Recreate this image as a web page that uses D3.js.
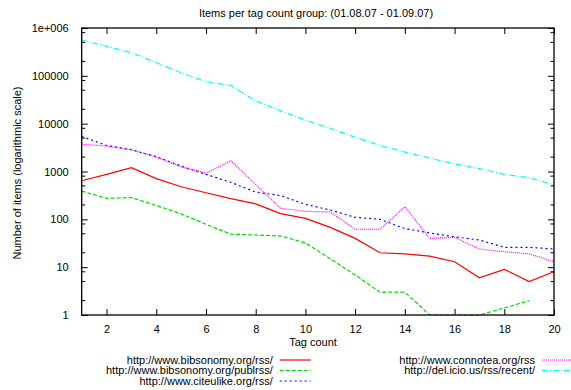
<!DOCTYPE html>
<html lang="en">
<head>
  <meta charset="UTF-8">
  <title>Items per tag count group</title>
  <script src="https://d3js.org/d3.v7.min.js"></script>
  <style>
    body { margin: 0; background: #fff; }
    svg { display: block; font-family: "Liberation Sans", Arial, sans-serif; font-size: 11px; }
    .tick text { font-size: 11px; fill: #000; }
    .tick line { stroke: #000; }
  </style>
</head>
<body>
  <svg id="chart"></svg>

  <script>
    const tagCounts = [1, 2, 3, 4, 5, 6, 7, 8, 9, 10, 11, 12, 13, 14, 15, 16, 17, 18, 19, 20];

    const bibsonomyRss = [640, 870, 1200, 710, 480, 360, 270, 210, 132, 105, 68, 40, 20, 19, 17, 13, 6, 9, 5, 8];
    const bibsonomyPubl = [390, 275, 285, 195, 130, 79, 49, 47, 45, 32, 15, 6.9, 3, 3, 1, 1, 1, 1.4, 2, null];
    const citeulike = [5400, 3500, 2850, 2050, 1300, 870, 595, 370, 315, 205, 157, 110, 100, 64, 52, 43, 37, 26, 26, 24];
    const connotea = [3700, 3400, 2850, 2000, 1250, 920, 1680, 535, 170, 147, 142, 62, 62, 183, 40, 42, 24, 21, 19, 13];
    const delicious = [560000, 415000, 305000, 188000, 116000, 75500, 63000, 30000, 18700, 11900, 8000, 5200, 3500, 2550, 1900, 1450, 1150, 870, 740, 530];

    const xTicks = [2, 4, 6, 8, 10, 12, 14, 16, 18, 20];
    const yTicks = [1, 10, 100, 1000, 10000, 100000, 1000000];
    const yTickLabels = ["1", "10", "100", "1000", "10000", "100000", "1e+006"];

    const series = [
      { name: "http://www.bibsonomy.org/rss/", values: bibsonomyRss, color: "#ff0000", dash: null },
      { name: "http://www.bibsonomy.org/publrss/", values: bibsonomyPubl, color: "#00dd00", dash: "4,2" },
      { name: "http://www.citeulike.org/rss/", values: citeulike, color: "#0000ff", dash: "2,3" },
      { name: "http://www.connotea.org/rss", values: connotea, color: "#ff00ff", dash: "1,1" },
      { name: "http://del.icio.us/rss/recent/", values: delicious, color: "#00ffff", dash: "6,2,1,2" }
    ];

    const width = 571;
    const height = 390;
    const plotLeft = 81.7, plotRight = 554, plotTop = 28, plotBottom = 315;

    const svg = d3.select("#chart")
      .attr("width", width)
      .attr("height", height);

    const x = d3.scaleLinear().domain([1, 20]).range([plotLeft, plotRight]);
    const y = d3.scaleLog().domain([1, 1e6]).range([plotBottom, plotTop]);

    // axes, ticks pointing inward on every side
    svg.append("g")
      .attr("transform", `translate(0,${plotBottom})`)
      .call(d3.axisBottom(x).tickValues(xTicks).tickSize(-6).tickPadding(10))
      .call(g => g.select(".domain").remove());

    svg.append("g")
      .attr("transform", `translate(0,${plotTop})`)
      .call(d3.axisTop(x).tickValues(xTicks).tickSize(-6).tickFormat(""))
      .call(g => g.select(".domain").remove());

    svg.append("g")
      .attr("transform", `translate(${plotLeft},0)`)
      .call(d3.axisLeft(y).tickValues(yTicks).tickSize(-6).tickPadding(13)
        .tickFormat((d, i) => yTickLabels[i]))
      .call(g => g.select(".domain").remove());

    svg.append("g")
      .attr("transform", `translate(${plotRight},0)`)
      .call(d3.axisRight(y).tickValues(yTicks).tickSize(-6).tickFormat(""))
      .call(g => g.select(".domain").remove());

    // minor log ticks
    const minor = [];
    yTicks.slice(0, -1).forEach(d => [2, 5, 8].forEach(m => minor.push(d * m)));
    svg.append("g").selectAll("line")
      .data(minor).enter().append("line")
      .attr("x1", plotLeft).attr("x2", plotLeft + 3.5)
      .attr("y1", d => y(d)).attr("y2", d => y(d))
      .attr("stroke", "#000");
    svg.append("g").selectAll("line")
      .data(minor).enter().append("line")
      .attr("x1", plotRight).attr("x2", plotRight - 3.5)
      .attr("y1", d => y(d)).attr("y2", d => y(d))
      .attr("stroke", "#000");

    // lines
    const line = d3.line()
      .defined(d => d[1] != null)
      .x(d => x(d[0]))
      .y(d => y(d[1]));

    svg.append("g").selectAll("path")
      .data(series)
      .enter()
      .append("path")
      .attr("d", s => line(tagCounts.map((t, i) => [t, s.values[i]])))
      .attr("fill", "none")
      .attr("stroke", s => s.color)
      .attr("stroke-width", 1.2)
      .attr("stroke-dasharray", s => s.dash);

    // frame
    svg.append("rect")
      .attr("x", plotLeft).attr("y", plotTop)
      .attr("width", plotRight - plotLeft).attr("height", plotBottom - plotTop)
      .attr("fill", "none").attr("stroke", "#000").attr("stroke-width", 1.3);

    // title and axis labels
    svg.append("text")
      .attr("x", 316).attr("y", 17)
      .attr("text-anchor", "middle")
      .text("Items per tag count group: (01.08.07 - 01.09.07)");

    svg.append("text")
      .attr("x", 313).attr("y", 346)
      .attr("text-anchor", "middle")
      .text("Tag count");

    svg.append("text")
      .attr("transform", "translate(21,173) rotate(-90)")
      .attr("text-anchor", "middle")
      .text("Number of items (logarithmic scale)");

    // legend: two columns
    const legendPos = [
      { tx: 272.7, y: 360 }, { tx: 272.7, y: 370.5 }, { tx: 272.7, y: 381 },
      { tx: 535, y: 360 }, { tx: 535, y: 370.5 }
    ];

    const legend = svg.append("g").selectAll("g")
      .data(series)
      .enter()
      .append("g")
      .attr("transform", (d, i) => `translate(${legendPos[i].tx},${legendPos[i].y})`);

    legend.append("text")
      .attr("text-anchor", "end")
      .attr("dy", "0.35em")
      .text(d => d.name);

    legend.append("line")
      .attr("x1", 7).attr("x2", 38)
      .attr("stroke", d => d.color)
      .attr("stroke-width", 1.2)
      .attr("stroke-dasharray", d => d.dash);
  </script>
</body>
</html>
